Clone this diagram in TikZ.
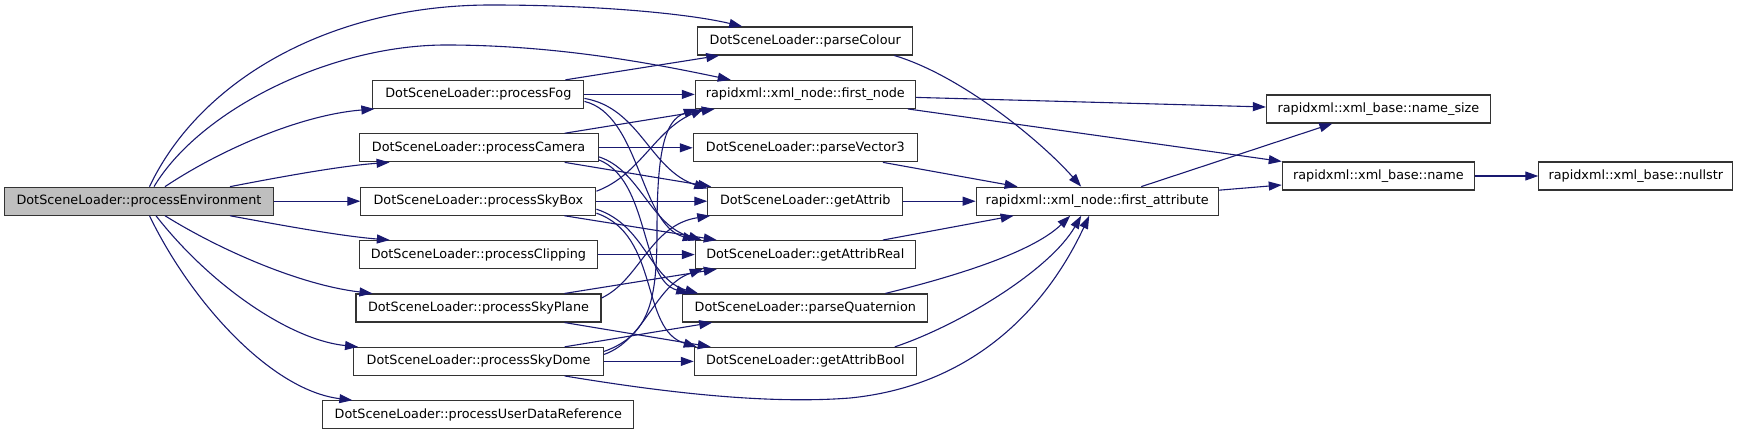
\documentclass[tikz,border=0pt]{standalone}
\usepackage{fontspec}
\newfontfamily\dvsans{DejaVu Sans}
\usetikzlibrary{arrows.meta}
\definecolor{edgeblue}{HTML}{191970}
\definecolor{boxgray}{HTML}{BFBFBF}
\begin{document}
\begin{tikzpicture}[x=1pt,y=-1pt,
  fn/.style={draw=black!80, line width=1.1pt, fill=white, minimum height=28pt, inner sep=0pt,
             font=\dvsans\fontsize{12.8}{15}\selectfont},
  call/.style={draw=edgeblue, line width=1.1pt, -{Triangle[length=13pt,width=9pt]}},
]
\useasboundingbox (0,0) rectangle (1739,435);

% nodes
\node[fn, fill=boxgray, minimum width=269pt] (PE) at (139,201.2) {DotSceneLoader::processEnvironment};
\node[fn, minimum width=211pt] (Fog)      at (478.4,94.4)  {DotSceneLoader::processFog};
\node[fn, minimum width=239pt] (Camera)   at (478.6,147.8) {DotSceneLoader::processCamera};
\node[fn, minimum width=235pt] (SkyBox)   at (478.4,201.2) {DotSceneLoader::processSkyBox};
\node[fn, minimum width=238pt] (Clipping) at (478.4,254.6) {DotSceneLoader::processClipping};
\node[fn, minimum width=245pt] (SkyPlane) at (478.5,308)   {DotSceneLoader::processSkyPlane};
\node[fn, minimum width=250pt] (SkyDome)  at (478.6,361.4) {DotSceneLoader::processSkyDome};
\node[fn, minimum width=311pt] (UDR)      at (478.4,414.8) {DotSceneLoader::processUserDataReference};

\node[fn, minimum width=215pt] (parseColour)     at (805.3,41)    {DotSceneLoader::parseColour};
\node[fn, minimum width=220pt] (firstnode)       at (805.3,94.4)  {rapidxml::xml\_node::first\_node};
\node[fn, minimum width=224pt] (parseVector3)    at (805.3,147.8) {DotSceneLoader::parseVector3};
\node[fn, minimum width=195pt] (getAttrib)       at (805.3,201.2) {DotSceneLoader::getAttrib};
\node[fn, minimum width=220pt] (getAttribReal)   at (805.3,254.6) {DotSceneLoader::getAttribReal};
\node[fn, minimum width=245pt] (parseQuaternion) at (805.3,308)   {DotSceneLoader::parseQuaternion};
\node[fn, minimum width=222pt] (getAttribBool)   at (805.3,361.4) {DotSceneLoader::getAttribBool};

\node[fn, minimum width=242pt] (firstattr) at (1097.2,201.2) {rapidxml::xml\_node::first\_attribute};
\node[fn, minimum width=224pt] (namesize)  at (1378.4,109)   {rapidxml::xml\_base::name\_size};
\node[fn, minimum width=192pt] (name)      at (1378.3,176)   {rapidxml::xml\_base::name};
\node[fn, minimum width=194pt] (nullstr)   at (1635.8,176)   {rapidxml::xml\_base::nullstr};

% processEnvironment
\draw[call] ([xshift=10.5pt]PE.north) .. controls (200,80) and (330,5) .. (491,5)
            .. controls (600,5) and (690,14) .. ([xshift=45pt]parseColour.north west);
\draw[call] ([xshift=15pt]PE.north) .. controls (200,110) and (330,45) .. (446,45)
            .. controls (560,45) and (660,65) .. ([xshift=36pt]firstnode.north west);
\draw[call] ([xshift=26pt]PE.north) .. controls (220,150) and (300,115) .. ([xshift=2pt]Fog.south west);
\draw[call] ([xshift=91pt]PE.north) .. controls (280,177) and (340,166) .. ([xshift=31pt]Camera.south west);
\draw[call] (PE.east) -- (SkyBox.west);
\draw[call] ([xshift=91pt]PE.south) .. controls (280,225) and (340,236) .. ([xshift=31pt]Clipping.north west);
\draw[call] ([xshift=26pt]PE.south) .. controls (220,250) and (300,285) .. ([xshift=17pt]SkyPlane.north west);
\draw[call] ([xshift=17pt]PE.south) .. controls (210,285) and (290,340) .. ([xshift=5pt]SkyDome.north west);
\draw[call] ([xshift=10.5pt]PE.south) .. controls (190,300) and (270,390) .. ([xshift=30pt]UDR.north west);

% processFog
\draw[call] ([xshift=87pt]Fog.north) -- ([xshift=22pt]parseColour.south west);
\draw[call] (Fog.east) -- (firstnode.west);
\draw[call] ([yshift=-4pt]Fog.east) .. controls (640,108) and (650,170) .. ([yshift=-2pt]getAttrib.north west);
\draw[call] ([yshift=-7pt]Fog.east) .. controls (640,115) and (640,225) .. ([xshift=1pt]getAttribReal.north west);

% processCamera
\draw[call] ([xshift=86pt]Camera.north) -- ([xshift=20pt]firstnode.south west);
\draw[call] (Camera.east) -- (parseVector3.west);
\draw[call] ([xshift=86pt]Camera.south) -- ([xshift=4pt]getAttrib.north west);
\draw[call] ([yshift=-9pt]Camera.east) .. controls (640,170) and (650,225) .. ([xshift=7pt]getAttribReal.north west);
\draw[call] ([yshift=-12pt]Camera.east) .. controls (650,180) and (640,280) .. ([xshift=7pt]parseQuaternion.north west);

% processSkyBox
\draw[call] ([yshift=10pt]SkyBox.east) .. controls (640,175) and (655,130) .. ([xshift=9pt]firstnode.south west);
\draw[call] (SkyBox.east) -- (getAttrib.west);
\draw[call] ([xshift=86pt]SkyBox.south) -- ([xshift=22pt]getAttribReal.north west);
\draw[call] ([yshift=-8pt]SkyBox.east) .. controls (645,225) and (650,280) .. ([xshift=16pt]parseQuaternion.north west);
\draw[call] ([yshift=-12pt]SkyBox.east) .. controls (660,235) and (640,330) .. ([xshift=3pt]getAttribBool.north west);

% processClipping
\draw[call] (Clipping.east) -- (getAttribReal.west);

% processSkyPlane
\draw[call] ([yshift=10pt]SkyPlane.east) .. controls (640,280) and (650,225) .. ([xshift=3pt]getAttrib.south west);
\draw[call] ([xshift=86pt]SkyPlane.north) -- ([xshift=22pt]getAttribReal.south west);
\draw[call] ([xshift=86pt]SkyPlane.south) -- ([xshift=17pt]getAttribBool.north west);

% processSkyDome
\draw[call] ([yshift=10pt]SkyDome.east) .. controls (650,335) and (657,300) .. (657,230)
            .. controls (657,150) and (665,120) .. ([xshift=2pt]firstnode.south west);
\draw[call] ([yshift=7pt]SkyDome.east) .. controls (645,340) and (655,285) .. ([xshift=8pt]getAttribReal.south west);
\draw[call] ([xshift=86pt]SkyDome.north) -- ([xshift=30pt]parseQuaternion.south west);
\draw[call] (SkyDome.east) -- (getAttribBool.west);
\draw[call] ([xshift=86pt]SkyDome.south) .. controls (650,390) and (760,405) .. (850,398)
            .. controls (980,385) and (1050,300) .. ([xshift=-8pt]firstattr.south);

% helpers
\draw[call] ([xshift=-19pt]parseColour.south east) .. controls (960,75) and (1040,140) .. ([xshift=-16pt]firstattr.north);
\draw[call] ([yshift=-3pt]firstnode.east) -- ([yshift=2pt]namesize.west);
\draw[call] ([xshift=-8pt]firstnode.south east) -- (name.north west);
\draw[call] ([xshift=-35pt]parseVector3.south east) -- ([xshift=42pt]firstattr.north west);
\draw[call] (getAttrib.east) -- (firstattr.west);
\draw[call] ([xshift=-33pt]getAttribReal.north east) -- ([xshift=38pt]firstattr.south west);
\draw[call] ([xshift=-43pt]parseQuaternion.north east) .. controls (940,280) and (1030,255) .. ([xshift=-27pt]firstattr.south);
\draw[call] ([xshift=-22pt]getAttribBool.north east) .. controls (960,325) and (1050,270) .. ([xshift=-16pt]firstattr.south);
\draw[call] ([xshift=44pt]firstattr.north) -- ([xshift=-46pt]namesize.south);
\draw[call] ([yshift=11pt]firstattr.east) -- ([yshift=-9pt]name.west);
\draw[call] (name.east) -- (nullstr.west);
\end{tikzpicture}
\end{document}
